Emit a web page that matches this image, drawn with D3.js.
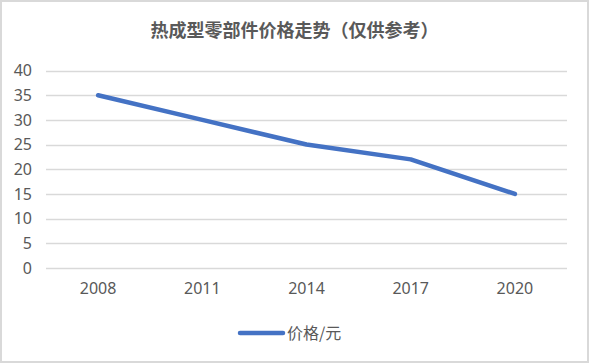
<!DOCTYPE html>
<meta charset="utf-8">
<head>
<script src="https://cdn.jsdelivr.net/npm/d3@7"></script>
<style>
  body { margin: 0; background: #fff; }
  text { font-family: "Noto Sans CJK SC", "Noto Sans", sans-serif; }
</style>
</head>
<body>
<div id="chart"></div>
<script>
// data
var years = ["2008", "2011", "2014", "2017", "2020"];
var prices = [35, 30, 25, 22, 15];
var yTicks = [0, 5, 10, 15, 20, 25, 30, 35, 40];
var seriesName = "价格/元";
var titleText = "热成型零部件价格走势（仅供参考）";

var W = 589, H = 363;
var margin = {top: 70.5, right: 22, bottom: 95, left: 46};

var svg = d3.select("#chart").append("svg")
    .attr("width", W)
    .attr("height", H);

// outer frame
svg.append("rect")
    .attr("x", 1).attr("y", 1)
    .attr("width", W - 2).attr("height", H - 2)
    .attr("fill", "#fff")
    .attr("stroke", "#d9d9d9")
    .attr("stroke-width", 2);

var x = d3.scaleBand()
    .domain(years)
    .range([margin.left, W - margin.right]);

var y = d3.scaleLinear()
    .domain([0, 40])
    .range([H - margin.bottom, margin.top]);

// gridlines
svg.append("g")
  .selectAll("line")
  .data(yTicks)
  .enter().append("line")
    .attr("x1", margin.left)
    .attr("x2", W - margin.right)
    .attr("y1", function(d) { return Math.round(y(d)) + 0.5; })
    .attr("y2", function(d) { return Math.round(y(d)) + 0.5; })
    .attr("stroke", "#d9d9d9")
    .attr("stroke-width", 1.3);

// y axis labels
var yAxis = d3.axisLeft(y).tickValues(yTicks).tickSize(0).tickPadding(0);
var gy = svg.append("g")
    .attr("transform", "translate(32,0)")
    .call(yAxis);
gy.select(".domain").remove();
gy.selectAll("text")
    .attr("fill", "#595959")
    .style("font-size", "16px")
    .style("font-family", "'Noto Sans', sans-serif");

// x axis labels
var xAxis = d3.axisBottom(x).tickSize(0).tickPadding(0);
var gx = svg.append("g")
    .attr("transform", "translate(0," + (H - margin.bottom + 15) + ")")
    .call(xAxis);
gx.select(".domain").remove();
gx.selectAll("text")
    .attr("fill", "#595959")
    .style("font-size", "16px")
    .style("font-family", "'Noto Sans', sans-serif");

// the line
var line = d3.line()
    .x(function(d, i) { return x(years[i]) + x.bandwidth() / 2; })
    .y(function(d) { return y(d); });

svg.append("path")
    .datum(prices)
    .attr("d", line)
    .attr("fill", "none")
    .attr("stroke", "#4472c4")
    .attr("stroke-width", 4.5)
    .attr("stroke-linecap", "round")
    .attr("stroke-linejoin", "round");

// title
svg.append("text")
    .attr("x", W / 2)
    .attr("y", 37)
    .attr("text-anchor", "middle")
    .attr("fill", "#595959")
    .style("font-size", "18px")
    .style("font-weight", "bold")
    .text(titleText);

// legend
var lg = svg.append("g").attr("transform", "translate(240,333)");
lg.append("line")
    .attr("x1", 0).attr("x2", 43)
    .attr("y1", 0).attr("y2", 0)
    .attr("stroke", "#4472c4")
    .attr("stroke-width", 4.5)
    .attr("stroke-linecap", "round");
lg.append("text")
    .attr("x", 47)
    .attr("y", 6)
    .attr("fill", "#595959")
    .style("font-size", "16px")
    .text(seriesName);
</script>
</body>
